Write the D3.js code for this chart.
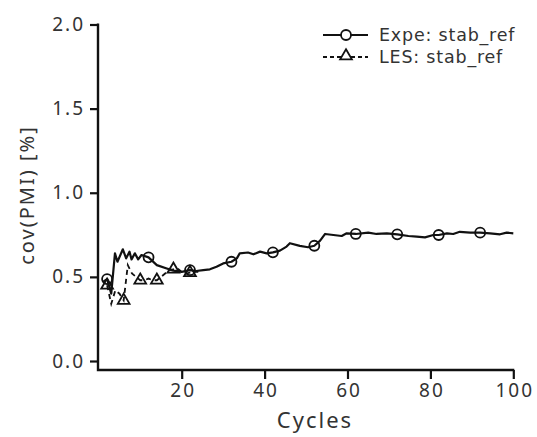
<!DOCTYPE html>
<html><head><meta charset="utf-8">
<script src="https://cdn.jsdelivr.net/npm/d3@7"></script>
<style>body{margin:0;background:#fff}svg{display:block}</style>
</head><body><svg id="c" width="537" height="437"></svg>
<script>
const expeCycles = [1,2,3,3.9,4.5,5.8,6.6,7.4,7.9,8.7,9.5,10.3,12,14,16.4,18,20,22,23.5,25.2,26.8,28.4,30,32,33.3,34,36,37.3,38.9,40.5,42,43.7,45.3,46.1,48.5,50.5,52,53.4,54.6,56.6,58.6,59.8,62,65,67,69.5,72,74.7,76.7,78.7,80.7,82,84,85.5,87.1,89.6,92,94.4,96.8,98.4,100];
const expeValues = [0.47,0.487,0.40,0.64,0.59,0.664,0.61,0.65,0.604,0.64,0.604,0.63,0.616,0.57,0.55,0.537,0.53,0.54,0.535,0.54,0.545,0.56,0.58,0.59,0.61,0.64,0.645,0.634,0.65,0.64,0.646,0.656,0.68,0.70,0.684,0.676,0.685,0.715,0.755,0.749,0.743,0.759,0.755,0.763,0.755,0.759,0.753,0.743,0.739,0.735,0.749,0.749,0.759,0.755,0.768,0.763,0.763,0.759,0.753,0.763,0.759];
const expeMarkerCycles = [2,12,22,32,42,52,62,72,82,92];
const lesCycles = [2,3,4,5,6,7,8,9,10,11,12,13,14,15,16,17,18,19,20,21,22,23,24];
const lesValues = [0.45,0.34,0.42,0.40,0.36,0.57,0.52,0.50,0.48,0.48,0.49,0.48,0.48,0.50,0.52,0.54,0.545,0.55,0.53,0.52,0.525,0.53,0.53];
const lesMarkerCycles = [2,6,10,14,18,22];
const xTicks = [20,40,60,80,100];
const yTicks = [0,0.5,1.0,1.5,2.0];
const legendLabels = ["Expe: stab_ref","LES: stab_ref"];

const svg = d3.select("#c");
const font = "'Noto Sans', 'DejaVu Sans', sans-serif";
const legendFont = "'DejaVu Sans', sans-serif";
const x = d3.scaleLinear().domain([0,100]).range([98.8,513.3]);
const y = d3.scaleLinear().domain([0,2]).range([361,24.5]);

// axes
const gx = svg.append("g").attr("transform","translate(0,370)")
  .call(d3.axisBottom(x).tickValues(xTicks).tickFormat(d3.format("d")).tickSize(9).tickPadding(5).tickSizeOuter(0));
const gy = svg.append("g").attr("transform","translate(98,0)")
  .call(d3.axisLeft(y).tickValues(yTicks).tickFormat(d3.format(".1f")).tickSize(8).tickPadding(5).tickSizeOuter(0));
[gx,gy].forEach(g=>{
  g.select(".domain").remove();
  g.selectAll(".tick line").attr("stroke","#111").attr("stroke-width",2.2);
  g.selectAll(".tick text").attr("font-family",font).attr("font-size",19).attr("letter-spacing",2).attr("fill","#333");
});
gx.selectAll(".tick text").attr("dx",1);
svg.append("path").attr("d",`M98,${y(2)-1}V370H${x(100)+1}`).attr("fill","none").attr("stroke","#111").attr("stroke-width",2.4);

// axis labels
svg.append("text").attr("x",315).attr("y",428).attr("text-anchor","middle")
  .attr("font-family",font).attr("font-size",22).attr("letter-spacing",2).attr("fill","#333").text("Cycles");
svg.append("text").attr("transform","translate(34,195) rotate(-90)").attr("text-anchor","middle")
  .attr("font-family",font).attr("font-size",20).attr("letter-spacing",2).attr("fill","#333").text("cov(PMI) [%]");

const line = d3.line().x(d=>x(d[0])).y(d=>y(d[1]));
const expe = expeCycles.map((c,i)=>[c,expeValues[i]]);
const les = lesCycles.map((c,i)=>[c,lesValues[i]]);
const interp = (arr, c) => { for(let i=1;i<arr.length;i++){ if(c<=arr[i][0]){const a=arr[i-1],b=arr[i];const t=(c-a[0])/(b[0]-a[0]);return a[1]+t*(b[1]-a[1]);} } return arr[arr.length-1][1]; };

svg.append("path").attr("d",line(les)).attr("fill","none").attr("stroke","#111").attr("stroke-width",1.8).attr("stroke-dasharray","5,4");
svg.append("path").attr("d",line(expe)).attr("fill","none").attr("stroke","#111").attr("stroke-width",2.2).attr("stroke-linejoin","round");

const tri = d3.symbol().type(d3.symbolTriangle).size(60);
svg.selectAll(".lm").data(lesMarkerCycles).join("path")
  .attr("transform",c=>`translate(${x(c)},${y(interp(les,c))})`).attr("d",tri)
  .attr("fill","none").attr("stroke","#111").attr("stroke-width",1.8);
svg.selectAll(".em").data(expeMarkerCycles).join("circle")
  .attr("cx",c=>x(c)).attr("cy",c=>y(interp(expe,c))).attr("r",5)
  .attr("fill","none").attr("stroke","#111").attr("stroke-width",1.8);

// legend
const lg = svg.append("g");
lg.append("line").attr("x1",323).attr("x2",368).attr("y1",35).attr("y2",35).attr("stroke","#111").attr("stroke-width",2);
lg.append("circle").attr("cx",346).attr("cy",35).attr("r",5).attr("fill","#fff").attr("stroke","#111").attr("stroke-width",1.8);
lg.append("line").attr("x1",323).attr("x2",368).attr("y1",57).attr("y2",57).attr("stroke","#111").attr("stroke-width",1.8).attr("stroke-dasharray","4,3");
lg.append("path").attr("transform","translate(346,56)").attr("d",tri).attr("fill","#fff").attr("stroke","#111").attr("stroke-width",1.8);
lg.selectAll("text").data(legendLabels).join("text")
  .attr("x",379).attr("y",(d,i)=>41+i*22).attr("font-family",legendFont).attr("font-size",17.5).attr("letter-spacing",0.8).attr("fill","#333").text(d=>d);
</script></body></html>
